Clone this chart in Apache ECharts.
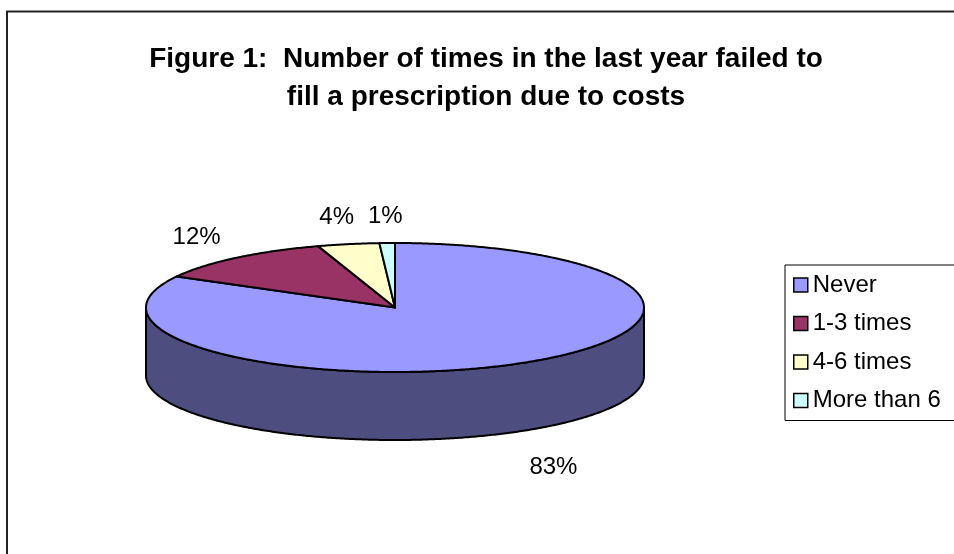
<!DOCTYPE html>
<html><head><meta charset="utf-8">
<script src="https://cdn.jsdelivr.net/npm/echarts@6/dist/echarts.min.js"></script>
<style>html,body{margin:0;padding:0;background:#fff}#c{width:954px;height:554px}</style>
</head><body><div id="c"></div>
<script>
const titleLines = ['Figure 1:  Number of times in the last year failed to', 'fill a prescription due to costs'];
const categories = ['Never', '1-3 times', '4-6 times', 'More than 6'];
const values = [83, 12, 4, 1];
const colors = ['#9999FF', '#993366', '#FFFFCC', '#CCFFFF'];
const sideColors = ['#4D4D80', '#4D1A33', '#808066', '#668080'];

const PIE = {cx: 395, cy: 307.5, rx: 249, ry: 64.5, depth: 68};
const total = values.reduce((a, b) => a + b, 0);
const starts = []; let acc = 0; values.forEach(v => { starts.push(acc); acc += v; });
const deg = Math.PI / 180;
function pt(th, dy) { return [PIE.cx + PIE.rx * Math.cos(th), PIE.cy - PIE.ry * Math.sin(th) + (dy || 0)]; }
function arc(a, b, dy) {
  const n = Math.max(2, Math.ceil(Math.abs(b - a) / (0.5 * deg)));
  const out = [];
  for (let k = 0; k <= n; k++) out.push(pt(a + (b - a) * k / n, dy));
  return out;
}
const FONT = '"Liberation Sans", Arial, sans-serif';
function renderSlice(i) {
  return function (params, api) {
    const v = api.value(0);
    const a0 = (90 - starts[i] / total * 360) * deg;
    const a1 = a0 - v / total * 360 * deg;
    const children = [];
    for (let k = -2; k <= 1; k++) {
      const lo = (-180 + 360 * k) * deg, hi = (360 * k) * deg;
      const s = Math.min(a0, hi), e = Math.max(a1, lo);
      if (s > e) {
        const top = arc(s, e, 0), bot = arc(e, s, PIE.depth);
        children.push({type: 'polygon', shape: {points: top.concat(bot)},
          style: {fill: sideColors[i], stroke: '#000', lineWidth: 2, lineJoin: 'round'}});
      }
    }
    const topPts = [[PIE.cx, PIE.cy]].concat(arc(a0, a1, 0));
    children.push({type: 'polygon', shape: {points: topPts}, z2: 10,
      style: {fill: colors[i], stroke: '#000', lineWidth: 2, lineJoin: 'round'}});
    const m = (a0 + a1) / 2, c = Math.cos(m), s = Math.sin(m);
    const front = s < 0;
    const lx = PIE.cx + 1.25 * PIE.rx * c;
    const ly = PIE.cy - (front ? 1.65 : 1.42) * PIE.ry * s + (front ? PIE.depth : 0);
    children.push({type: 'text', x: lx, y: ly, z2: 20,
      style: {text: Math.round(v / total * 100) + '%', fill: '#000', font: '24px ' + FONT,
        align: 'center', verticalAlign: 'middle'}});
    return {type: 'group', children};
  };
}
const chart = echarts.init(document.getElementById('c'), null, {renderer: 'canvas'});
chart.setOption({
  backgroundColor: '#fff',
  animation: false,
  title: {
    text: titleLines.join('\n'), left: 481, top: 35, textAlign: 'center',
    textStyle: {fontSize: 28, fontWeight: 'bold', fontFamily: FONT, color: '#000', lineHeight: 38}
  },
  legend: {
    orient: 'vertical', left: 785, top: 265, data: categories,
    itemWidth: 14, itemHeight: 14, itemGap: 14.5, padding: [8, 30, 8, 8],
    borderColor: '#000', borderWidth: 1, icon: 'rect', selectedMode: false,
    textStyle: {fontSize: 24, color: '#000', fontFamily: FONT},
    itemStyle: {borderColor: '#000', borderWidth: 1.5}
  },
  graphic: [{type: 'rect', silent: true, shape: {x: 7, y: 11.5, width: 1200, height: 800},
    style: {fill: 'none', stroke: '#222', lineWidth: 2}}],
  series: categories.map((name, i) => ({
    type: 'custom', name: name, coordinateSystem: 'none',
    itemStyle: {color: colors[i]},
    data: [[values[i]]],
    renderItem: renderSlice(i)
  }))
});
</script></body></html>
